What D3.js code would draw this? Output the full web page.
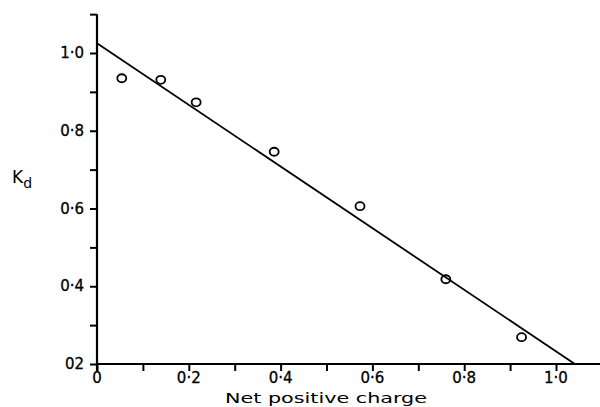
<!DOCTYPE html>
<html>
<head>
<meta charset="utf-8">
<script src="https://cdn.jsdelivr.net/npm/d3@7"></script>
<style>
  body { margin:0; background:#fff; }
  text { font-family:'DejaVu Sans', sans-serif; fill:#000; }
  .ticklab { stroke:#000; stroke-width:0.3; }
</style>
</head>
<body>
<script>
// measured points: net positive charge vs Kd
var charge = [0.054, 0.139, 0.216, 0.386, 0.573, 0.760, 0.925];
var kd     = [0.935, 0.931, 0.873, 0.746, 0.606, 0.418, 0.269];
// fitted straight line (two ends)
var fitX = [0, 1.041];
var fitY = [1.025, 0.2];
var xTicks = [0, 0.1, 0.2, 0.3, 0.4, 0.5, 0.6, 0.7, 0.8, 0.9, 1.0];
var yTicks = [0.2, 0.3, 0.4, 0.5, 0.6, 0.7, 0.8, 0.9, 1.0, 1.1];
var xLabels = ['0', '0·2', '0·4', '0·6', '0·8', '1·0'];
var yLabels = ['02', '0·4', '0·6', '0·8', '1·0'];

var screen = { width:600, height:407 };
var svg = d3.select('body').append('svg')
            .attr('width', screen.width)
            .attr('height', screen.height);

var xScale = d3.scaleLinear().domain([0, 1]).range([97, 556]);
var yScale = d3.scaleLinear().domain([0.2, 1.0]).range([364, 53]);

// axes
var xAxis = d3.axisBottom(xScale).tickValues(xTicks).tickSize(7).tickFormat('');
var yAxis = d3.axisLeft(yScale).tickValues(yTicks).tickSize(7).tickFormat('');

var gx = svg.append('g').attr('transform', 'translate(0,' + yScale(0.2) + ')').call(xAxis);
gx.select('.domain').attr('d', 'M' + xScale(0) + ',0H600');
var gy = svg.append('g').attr('transform', 'translate(' + xScale(0) + ',0)').call(yAxis);
gy.select('.domain').attr('d', 'M0,' + (yScale(0.2) + 7) + 'V' + yScale(1.1));
svg.selectAll('.domain').attr('stroke', '#000').attr('stroke-width', 2.2);
svg.selectAll('.tick line').attr('stroke', '#000').attr('stroke-width', 2);

// tick labels
svg.selectAll('.xlab')
   .data(xLabels)
   .enter().append('text')
   .classed('ticklab', true)
   .attr('x', function(d, i){ return xScale(i * 0.2); })
   .attr('y', 383)
   .attr('text-anchor', 'middle')
   .attr('font-size', 15)
   .text(function(d){ return d; });

svg.selectAll('.ylab')
   .data(yLabels)
   .enter().append('text')
   .classed('ticklab', true)
   .attr('x', 84)
   .attr('y', function(d, i){ return yScale(0.2 + i * 0.2) + 5; })
   .attr('text-anchor', 'end')
   .attr('font-size', 15)
   .text(function(d){ return d; });

// axis titles
svg.append('text')
   .attr('x', 225)
   .attr('y', 403)
   .attr('font-size', 14)
   .attr('textLength', 202)
   .attr('lengthAdjust', 'spacingAndGlyphs')
   .text('Net positive charge');

var kd_label = svg.append('text')
   .attr('x', 12)
   .attr('y', 183)
   .attr('font-size', 17);
kd_label.append('tspan').text('K');
kd_label.append('tspan').attr('dy', 5).attr('font-size', 14).text('d');

// fitted line
var line = d3.line()
             .x(function(d){ return xScale(d[0]); })
             .y(function(d){ return yScale(d[1]); });
svg.append('path')
   .datum(d3.zip(fitX, fitY))
   .attr('d', line)
   .attr('fill', 'none')
   .attr('stroke', '#000')
   .attr('stroke-width', 1.8);

// points
svg.selectAll('.pt')
   .data(d3.zip(charge, kd))
   .enter().append('ellipse')
   .attr('cx', function(d){ return xScale(d[0]); })
   .attr('cy', function(d){ return yScale(d[1]); })
   .attr('rx', 4.5)
   .attr('ry', 4)
   .attr('fill', 'none')
   .attr('stroke', '#000')
   .attr('stroke-width', 1.8);
</script>
</body>
</html>
